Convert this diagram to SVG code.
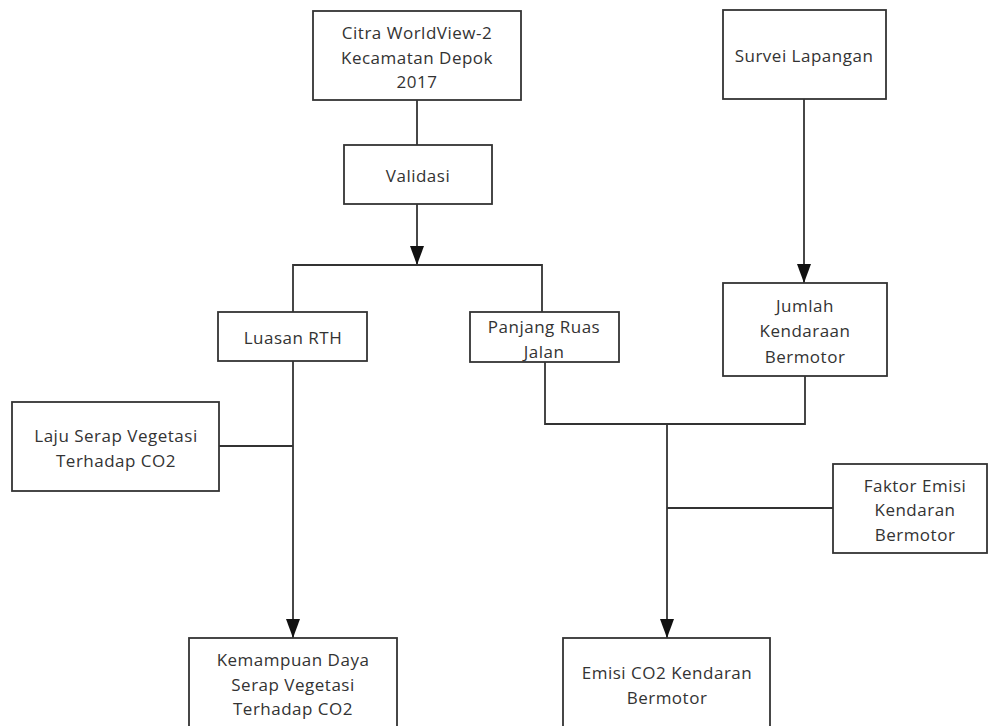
<svg xmlns="http://www.w3.org/2000/svg" width="989" height="726" viewBox="0 0 989 726">
<style>
.box{fill:#fff;stroke:#333;stroke-width:1.8}
.ln{fill:none;stroke:#333;stroke-width:1.8}
text{font-family:"Open Sans","Noto Sans",sans-serif;font-size:17px;letter-spacing:0.5px;fill:#333;text-anchor:middle;dominant-baseline:central}
</style>
<defs>
<marker id="arr" markerUnits="userSpaceOnUse" markerWidth="20" markerHeight="14" refX="19" refY="7" orient="auto">
<path d="M0,0 L19,7 L0,14 z" fill="#111"/>
</marker>
</defs>
<rect width="989" height="726" fill="#fff"/>
<g id="connectors">
<line class="ln" x1="417" y1="100" x2="417" y2="145"/>
<line class="ln" x1="417" y1="204" x2="417" y2="265" marker-end="url(#arr)"/>
<polyline class="ln" points="293,312 293,265 542,265 542,312"/>
<line class="ln" x1="804" y1="99" x2="804" y2="283" marker-end="url(#arr)"/>
<line class="ln" x1="293" y1="361" x2="293" y2="638" marker-end="url(#arr)"/>
<line class="ln" x1="219" y1="446" x2="293" y2="446"/>
<polyline class="ln" points="545,362 545,424 805,424 805,376"/>
<line class="ln" x1="667" y1="424" x2="667" y2="638" marker-end="url(#arr)"/>
<line class="ln" x1="667" y1="508" x2="833" y2="508"/>
</g>
<g id="citra">
<rect class="box" x="313" y="11" width="208" height="89"/>
<text x="417" y="32">Citra WorldView-2</text>
<text x="417" y="57">Kecamatan Depok</text>
<text x="417" y="81">2017</text>
</g>
<g id="survei">
<rect class="box" x="723" y="10" width="163" height="89"/>
<text x="804" y="55">Survei Lapangan</text>
</g>
<g id="validasi">
<rect class="box" x="344" y="145" width="148" height="59"/>
<text x="418" y="175">Validasi</text>
</g>
<g id="luasan">
<rect class="box" x="218" y="312" width="149" height="49"/>
<text x="293" y="337">Luasan RTH</text>
</g>
<g id="panjang">
<rect class="box" x="470" y="312" width="149" height="50"/>
<text x="544" y="326">Panjang Ruas</text>
<text x="544" y="351">Jalan</text>
</g>
<g id="jumlah">
<rect class="box" x="723" y="283" width="164" height="93"/>
<text x="805" y="305">Jumlah</text>
<text x="805" y="330">Kendaraan</text>
<text x="805" y="356">Bermotor</text>
</g>
<g id="laju">
<rect class="box" x="12" y="402" width="207" height="89"/>
<text x="116" y="435">Laju Serap Vegetasi</text>
<text x="116" y="460">Terhadap CO2</text>
</g>
<g id="faktor">
<rect class="box" x="833" y="464" width="154" height="89"/>
<text x="915" y="485">Faktor Emisi</text>
<text x="915" y="509">Kendaran</text>
<text x="915" y="534">Bermotor</text>
</g>
<g id="kemampuan">
<rect class="box" x="189" y="638" width="208" height="100"/>
<text x="293" y="659">Kemampuan Daya</text>
<text x="293" y="684">Serap Vegetasi</text>
<text x="293" y="708">Terhadap CO2</text>
</g>
<g id="emisi">
<rect class="box" x="563" y="638" width="207" height="100"/>
<text x="667" y="672">Emisi CO2 Kendaran</text>
<text x="667" y="697">Bermotor</text>
</g>
</svg>
